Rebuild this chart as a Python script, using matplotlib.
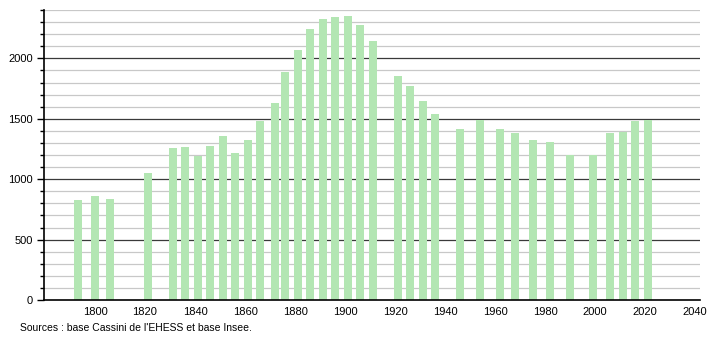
import matplotlib.pyplot as plt
from matplotlib.ticker import MultipleLocator

plt.rcParams['font.family'] = ['Liberation Sans', 'DejaVu Sans']

years = [1793, 1800, 1806, 1821, 1831, 1836, 1841, 1846, 1851, 1856,
         1861, 1866, 1872, 1876, 1881, 1886, 1891, 1896, 1901, 1906,
         1911, 1921, 1926, 1931, 1936, 1946, 1954, 1962, 1968, 1975,
         1982, 1990, 1999, 2006, 2011, 2016, 2021]
population = [825, 858, 839, 1050, 1258, 1267, 1194, 1275, 1358, 1217,
              1325, 1480, 1631, 1883, 2069, 2242, 2325, 2342, 2350, 2272,
              2142, 1856, 1775, 1650, 1542, 1417, 1492, 1419, 1383, 1325,
              1306, 1203, 1203, 1383, 1392, 1483, 1492]
x_ticks = [1800, 1820, 1840, 1860, 1880, 1900, 1920, 1940, 1960, 1980, 2000, 2020, 2040]
y_ticks = [0, 500, 1000, 1500, 2000]

fig = plt.figure(figsize=(7.1, 3.4), dpi=100)
ax = fig.add_axes([0.062, 0.1176, 0.924, 0.853])

# grid: light every 100, dark every 500
for v in range(100, 2401, 100):
    if v % 500 == 0:
        ax.axhline(v, color='#3a3a3a', linewidth=0.9, zorder=1)
    else:
        ax.axhline(v, color='#c8c8c8', linewidth=0.9, zorder=1)

ax.bar(years, population, width=3.2, color='#b3e6b3', zorder=2)

ax.set_xlim(1779.6, 2042)
ax.set_ylim(0, 2400)
ax.set_xticks(x_ticks)
ax.set_yticks(y_ticks)
ax.yaxis.set_minor_locator(MultipleLocator(100))
ax.tick_params(axis='x', length=0, labelsize=8, pad=5)
ax.tick_params(axis='y', which='major', length=5, width=1, labelsize=8, pad=3)
ax.tick_params(axis='y', which='minor', length=3, width=1)

for s in ['top', 'right']:
    ax.spines[s].set_visible(False)
ax.spines['left'].set_linewidth(1.2)
ax.spines['bottom'].set_linewidth(1.2)

fig.text(20 / 710, 1 - 328 / 340, "Sources : base Cassini de l'EHESS et base Insee.",
         fontsize=7.5, va='center', ha='left')

plt.savefig('out.png', dpi=100)
